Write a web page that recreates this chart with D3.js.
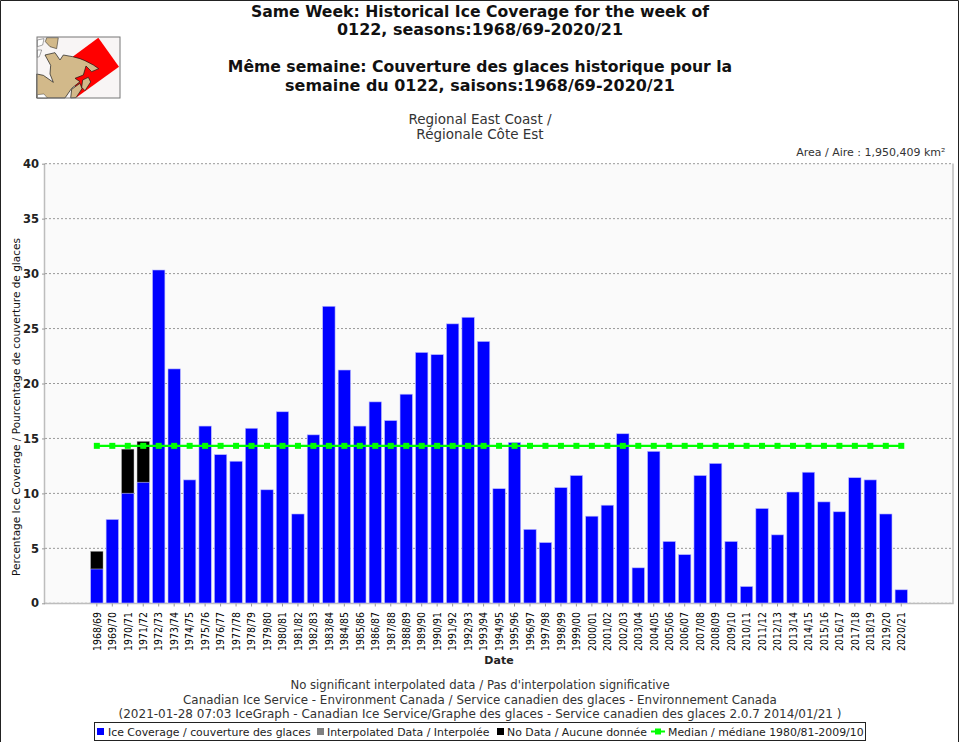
<!DOCTYPE html>
<html>
<head>
<meta charset="utf-8">
<script src="https://cdn.jsdelivr.net/npm/d3@7/dist/d3.min.js"></script>
<style>
  html, body { margin: 0; padding: 0; background: #fff; }
  svg { display: block; font-family: "DejaVu Sans", sans-serif; }
</style>
</head>
<body>
<div class="chart"></div>
<script>
'use strict';

var seasons = ['1968/69','1969/70','1970/71','1971/72','1972/73','1973/74','1974/75','1975/76',
  '1976/77','1977/78','1978/79','1979/80','1980/81','1981/82','1982/83','1983/84','1984/85',
  '1985/86','1986/87','1987/88','1988/89','1989/90','1990/91','1991/92','1992/93','1993/94',
  '1994/95','1995/96','1996/97','1997/98','1998/99','1999/00','2000/01','2001/02','2002/03',
  '2003/04','2004/05','2005/06','2006/07','2007/08','2008/09','2009/10','2010/11','2011/12',
  '2012/13','2013/14','2014/15','2015/16','2016/17','2017/18','2018/19','2019/20','2020/21'];
var iceCoverage = [3.1,7.6,10,11,30.3,21.3,11.2,16.1,13.5,12.9,15.9,10.3,17.4,8.1,15.3,27,21.2,
  16.1,18.3,16.6,19,22.8,22.6,25.4,26,23.8,10.4,14.6,6.7,5.5,10.5,11.6,7.9,8.9,15.4,3.2,13.8,
  5.6,4.4,11.6,12.7,5.6,1.5,8.6,6.2,10.1,11.9,9.2,8.3,11.4,11.2,8.1,1.2];
var noData = [1.6,0,4,3.7,0,0,0,0,0,0,0,0,0,0,0,0,0,0,0,0,0,0,0,0,0,0,0,0,0,0,0,0,0,0,0,0,0,
  0,0,0,0,0,0,0,0,0,0,0,0,0,0,0,0];
var medianValue = 14.3;
var yTicks = [0,5,10,15,20,25,30,35,40];
var titleLines = ['Same Week: Historical Ice Coverage for the week of', '0122, seasons:1968/69-2020/21', '',
  'Même semaine: Couverture des glaces historique pour la', 'semaine du 0122, saisons:1968/69-2020/21'];
var subtitleLines = ['Regional East Coast /', 'Régionale Côte Est'];
var footerLines = ['No significant interpolated data / Pas d\'interpolation significative',
  'Canadian Ice Service - Environment Canada / Service canadien des glaces - Environnement Canada',
  '(2021-01-28 07:03 IceGraph - Canadian Ice Service/Graphe des glaces - Service canadien des glaces 2.0.7 2014/01/21 )'];

var width = 960, height = 742;
var plot = { left: 45, right: 953, top: 163.4, bottom: 603 };

var svg = d3.select('.chart').append('svg')
  .attr('width', width)
  .attr('height', height);

svg.append('rect').attr('width', width).attr('height', height).attr('fill', '#fff');

var x = d3.scaleBand().domain(seasons).range([89.1, 909]).paddingInner(0.2).paddingOuter(0.1);
var y = d3.scaleLinear().domain([0, 40]).range([plot.bottom, plot.top]);

// Plot background
svg.append('rect')
  .attr('x', plot.left).attr('y', plot.top)
  .attr('width', plot.right - plot.left).attr('height', plot.bottom - plot.top)
  .attr('fill', '#fafafa');

// Gridlines
svg.append('g').selectAll('line')
  .data(yTicks).enter()
  .append('line')
    .attr('x1', plot.left).attr('x2', plot.right)
    .attr('y1', function(d) { return y(d) + 0.3; })
    .attr('y2', function(d) { return y(d) + 0.3; })
    .attr('stroke', '#999')
    .attr('stroke-width', 1)
    .attr('stroke-dasharray', '2,2');

// Plot border
svg.append('path')
  .attr('d', 'M' + (plot.left - 0.5) + ',' + plot.top + 'V' + (plot.bottom + 0.5) + 'H' + plot.right + 'V' + plot.top)
  .attr('fill', 'none')
  .attr('stroke', '#bdbdbd')
  .attr('stroke-width', 1.5);

// Bars
svg.append('g').selectAll('rect')
  .data(seasons).enter()
  .append('rect')
    .attr('x', function(d) { return x(d); })
    .attr('width', x.bandwidth())
    .attr('y', function(d, i) { return y(iceCoverage[i]); })
    .attr('height', function(d, i) { return y(0) - y(iceCoverage[i]); })
    .attr('fill', '#0000ff')
    .attr('stroke', '#b8b8ff')
    .attr('stroke-width', 0.6);

svg.append('g').selectAll('rect')
  .data(seasons.filter(function(d, i) { return noData[i] > 0; })).enter()
  .append('rect')
    .attr('x', function(d) { return x(d); })
    .attr('width', x.bandwidth())
    .attr('y', function(d) { var i = seasons.indexOf(d); return y(iceCoverage[i] + noData[i]); })
    .attr('height', function(d) { var i = seasons.indexOf(d); return y(iceCoverage[i]) - y(iceCoverage[i] + noData[i]); })
    .attr('fill', '#000')
    .attr('stroke', '#aaa')
    .attr('stroke-width', 0.4);

// Median line
var medianLine = d3.line()
  .x(function(d) { return x(d) + x.bandwidth() / 2; })
  .y(function() { return y(medianValue); });

svg.append('path')
  .datum(seasons)
  .attr('d', medianLine)
  .attr('fill', 'none')
  .attr('stroke', '#00ff00')
  .attr('stroke-width', 2.2);

svg.append('g').selectAll('rect')
  .data(seasons).enter()
  .append('rect')
    .attr('x', function(d) { return x(d) + x.bandwidth() / 2 - 3; })
    .attr('y', y(medianValue) - 3)
    .attr('width', 6).attr('height', 6)
    .attr('fill', '#00ff00');

// Y axis
var yAxis = svg.append('g')
  .attr('transform', 'translate(' + plot.left + ',0.3)')
  .call(d3.axisLeft(y).tickValues(yTicks).tickSize(3).tickPadding(3));
yAxis.select('.domain').remove();
yAxis.selectAll('line').attr('stroke', '#999');
yAxis.selectAll('text')
  .attr('font-family', '"DejaVu Sans", sans-serif')
  .attr('font-size', 11.5).attr('font-weight', 'bold').attr('fill', '#222');

// X axis
var xAxis = svg.append('g')
  .attr('transform', 'translate(0,' + (plot.bottom + 0.5) + ')')
  .call(d3.axisBottom(x).tickSize(3).tickPadding(0));
xAxis.select('.domain').remove();
xAxis.selectAll('line').attr('stroke', '#999');
xAxis.selectAll('text')
  .attr('font-family', '"DejaVu Sans", sans-serif')
  .attr('font-size', 10.8).attr('fill', '#000')
  .attr('text-anchor', 'end')
  .attr('dy', '0.35em')
  .attr('transform', 'translate(0,8.5) rotate(-90) scale(0.87,1)')
  .attr('x', 0).attr('y', 0);

// Axis titles
svg.append('text')
  .attr('x', 499).attr('y', 664)
  .attr('text-anchor', 'middle')
  .attr('font-size', 11).attr('font-weight', 'bold').attr('fill', '#222')
  .text('Date');

svg.append('text')
  .attr('transform', 'translate(19.5,407) rotate(-90)')
  .attr('text-anchor', 'middle')
  .attr('font-size', 10.5).attr('fill', '#111')
  .text('Percentage Ice Coverage / Pourcentage de couverture de glaces');

// Titles
svg.append('g').selectAll('text')
  .data(titleLines).enter()
  .append('text')
    .attr('x', 480)
    .attr('y', function(d, i) { return 16.5 + i * 18.5; })
    .attr('text-anchor', 'middle')
    .attr('font-size', function(d, i) { return i % 3 === 0 ? 15.65 : 15.95; })
    .attr('font-weight', 'bold').attr('fill', '#111')
    .text(function(d) { return d; });

svg.append('g').selectAll('text')
  .data(subtitleLines).enter()
  .append('text')
    .attr('x', 480)
    .attr('y', function(d, i) { return 123.5 + i * 15.5; })
    .attr('text-anchor', 'middle')
    .attr('font-size', 13.5).attr('fill', '#333')
    .text(function(d) { return d; });

svg.append('text')
  .attr('x', 945.5).attr('y', 156)
  .attr('text-anchor', 'end')
  .attr('font-size', 11).attr('fill', '#333')
  .text('Area / Aire : 1,950,409 km²');

// Footer
svg.append('g').selectAll('text')
  .data(footerLines).enter()
  .append('text')
    .attr('x', 480)
    .attr('y', function(d, i) { return 689 + i * 14.7; })
    .attr('text-anchor', 'middle')
    .attr('font-size', function(d, i) { return i === 0 ? 11.7 : (i === 1 ? 11.9 : 12); })
    .attr('fill', '#333')
    .text(function(d) { return d; });

// Legend
var legend = svg.append('g');
legend.append('rect')
  .attr('x', 94.5).attr('y', 722.5).attr('width', 771).attr('height', 18)
  .attr('fill', '#fff').attr('stroke', '#222').attr('stroke-width', 1);

var legendItems = [
  { label: 'Ice Coverage / couverture des glaces', swatch: 97, text: 108, color: '#0000ff' },
  { label: 'Interpolated Data / Interpolée', swatch: 317, text: 327, color: '#808080' },
  { label: 'No Data / Aucune donnée', swatch: 497, text: 507, color: '#000' }
];
legendItems.forEach(function(d) {
  legend.append('rect')
    .attr('x', d.swatch).attr('y', 728).attr('width', 7).attr('height', 7).attr('fill', d.color);
  legend.append('text')
    .attr('x', d.text).attr('y', 735.5)
    .attr('font-size', 10.9).attr('fill', '#222').text(d.label);
});
legend.append('line')
  .attr('x1', 651).attr('x2', 665).attr('y1', 731.5).attr('y2', 731.5)
  .attr('stroke', '#00ff00').attr('stroke-width', 2);
legend.append('rect')
  .attr('x', 655).attr('y', 728.5).attr('width', 6).attr('height', 6).attr('fill', '#00ff00');
legend.append('text')
  .attr('x', 668).attr('y', 735.5)
  .attr('font-size', 10.9).attr('fill', '#222').text('Median / médiane 1980/81-2009/10');

// Inset map, traced at 3x and scaled down
var inset = svg.append('g');
inset.append('rect')
  .attr('x', 37).attr('y', 37).attr('width', 83).attr('height', 61)
  .attr('fill', '#f8f5f5');
var map = inset.append('g').attr('transform', 'scale(0.3333)');
map.append('path')
  .attr('d', 'M295,113 L357,200 L228,293 L218,170 Z')
  .attr('fill', '#ff0000');
map.append('path')
  .attr('d', 'M110,222 L130,226 L160,247 L150,222 L152,196 L135,165 L165,158 L180,180 L190,165 L218,170 L240,176 L255,182 L280,195 L296,206 L275,215 L258,198 L250,225 L225,235 L240,245 L215,265 L195,294 L110,294 Z')
  .attr('fill', '#d2b98a')
  .attr('stroke', '#111')
  .attr('stroke-width', 2);
map.append('path')
  .attr('d', 'M140,113 L175,113 L170,146 L150,140 L136,125 Z')
  .attr('fill', '#d2b98a')
  .attr('stroke', '#111')
  .attr('stroke-width', 1.5);
map.append('path')
  .attr('d', 'M248,240 L265,232 L272,246 L255,272 L245,262 Z')
  .attr('fill', '#d2b98a')
  .attr('stroke', '#111')
  .attr('stroke-width', 2);
map.append('path')
  .attr('d', 'M215,268 L240,250 L246,266 L228,293 L212,294 Z')
  .attr('fill', '#d2b98a')
  .attr('stroke', '#111')
  .attr('stroke-width', 2);
map.append('path')
  .attr('d', 'M112,120 L132,116 L128,135 L112,140 Z M112,150 L125,150 L118,170 L112,172 Z M112,284 L132,282 L142,294 L112,294 Z')
  .attr('fill', '#fff')
  .attr('stroke', '#222')
  .attr('stroke-width', 1.2);
inset.append('rect')
  .attr('x', 37).attr('y', 37).attr('width', 83).attr('height', 61)
  .attr('fill', 'none').attr('stroke', '#777').attr('stroke-width', 1);

// Image edge
svg.append('path')
  .attr('d', 'M0.5,' + height + 'V0.5H' + (width - 1.5) + 'V' + height)
  .attr('fill', 'none').attr('stroke', '#222').attr('stroke-width', 1);
</script>
</body>
</html>
